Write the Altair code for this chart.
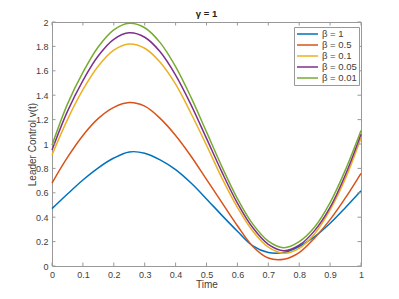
import altair as alt
import pandas as pd

t = [0.0, 0.05, 0.10, 0.15, 0.20, 0.25, 0.30, 0.35, 0.40, 0.45, 0.50,
     0.55, 0.60, 0.65, 0.70, 0.75, 0.80, 0.85, 0.90, 0.95, 1.0]

beta_1 = [0.47, 0.59, 0.705, 0.805, 0.885, 0.935, 0.925, 0.87, 0.79, 0.68, 0.55,
          0.415, 0.285, 0.165, 0.11, 0.11, 0.16, 0.24, 0.35, 0.48, 0.617]
beta_05 = [0.68, 0.89, 1.07, 1.21, 1.30, 1.34, 1.31, 1.21, 1.07, 0.90, 0.71,
           0.52, 0.33, 0.16, 0.065, 0.055, 0.11, 0.23, 0.38, 0.56, 0.76]
beta_01 = [0.91, 1.20, 1.445, 1.64, 1.77, 1.82, 1.785, 1.67, 1.49, 1.25, 0.99,
           0.72, 0.48, 0.285, 0.155, 0.105, 0.145, 0.265, 0.46, 0.72, 1.05]
beta_005 = [0.95, 1.267, 1.52, 1.723, 1.858, 1.911, 1.875, 1.756, 1.565, 1.321, 1.046,
            0.769, 0.516, 0.313, 0.178, 0.126, 0.17, 0.29, 0.48, 0.75, 1.08]
beta_001 = [0.99, 1.327, 1.587, 1.797, 1.936, 1.99, 1.953, 1.831, 1.634, 1.382, 1.099,
            0.813, 0.553, 0.343, 0.204, 0.15, 0.20, 0.32, 0.52, 0.79, 1.11]

labels = ["β = 1", "β = 0.5", "β = 0.1", "β = 0.05", "β = 0.01"]
colors = ["#0072BD", "#D95319", "#EDB120", "#7E2F8E", "#77AC30"]
x_ticks = [0, 0.1, 0.2, 0.3, 0.4, 0.5, 0.6, 0.7, 0.8, 0.9, 1.0]
y_ticks = [0, 0.2, 0.4, 0.6, 0.8, 1.0, 1.2, 1.4, 1.6, 1.8, 2.0]
title_text = ["γ = 1"]

series = [beta_1, beta_05, beta_01, beta_005, beta_001]
rows = []
for lab, vals in zip(labels, series):
    for ti, v in zip(t, vals):
        rows.append({"t": ti, "v": v, "series": lab})
df = pd.DataFrame(rows)

W, H = 309, 244
TXT = "#404040"
BOX = "#999999"
FONT = "Liberation Sans"

xs = alt.Scale(domain=[0, 1], nice=False)
ys = alt.Scale(domain=[0, 2], nice=False)

x_axis = alt.Axis(values=x_ticks, format="~g", title="Time", domain=False, ticks=False,
                  grid=False, labelPadding=4, labelFontSize=9, labelColor=TXT,
                  labelOverlap=False, labelFlush=False,
                  titleFontSize=10, titleFontWeight="normal", titleColor=TXT,
                  titleX=W / 2, titleY=18, titleBaseline="middle", labelFont=FONT,
                  titleFont=FONT)
y_axis = alt.Axis(values=y_ticks, format="~g", title="Leader Control v(t)", domain=False,
                  ticks=False, grid=False, labelPadding=4, labelFontSize=9,
                  labelOverlap=False, labelFlush=False,
                  labelColor=TXT, titleFontSize=10, titleFontWeight="normal",
                  titleColor=TXT, titleX=-20, titleY=H / 2, titleAngle=-90,
                  titleBaseline="middle", labelFont=FONT, titleFont=FONT)

lines = alt.Chart(df).mark_line(strokeWidth=1.5, interpolate="catmull-rom").encode(
    x=alt.X("t:Q", scale=xs, axis=x_axis),
    y=alt.Y("v:Q", scale=ys, axis=y_axis),
    color=alt.Color("series:N", sort=labels,
                    scale=alt.Scale(domain=labels, range=colors),
                    legend=alt.Legend(title=None, orient="none", legendX=242, legendY=5,
                                      symbolType="stroke", symbolSize=441, clipHeight=10,
                                      symbolStrokeWidth=1.5, labelFontSize=9.5,
                                      labelColor=TXT, labelFont=FONT, rowPadding=1,
                                      padding=2, strokeColor="#999999", fillColor="white",
                                      labelOffset=3)),
)

xt = pd.DataFrame({"t": x_ticks})
yt = pd.DataFrame({"v": y_ticks})
tick_style = dict(color=BOX, strokeWidth=1)
bt = alt.Chart(xt).mark_rule(**tick_style).encode(x=alt.X("t:Q", scale=xs, axis=x_axis), y=alt.value(H), y2=alt.value(H - 3.5))
tt = alt.Chart(xt).mark_rule(**tick_style).encode(x=alt.X("t:Q", scale=xs, axis=x_axis), y=alt.value(0), y2=alt.value(3.5))
lt = alt.Chart(yt).mark_rule(**tick_style).encode(y=alt.Y("v:Q", scale=ys, axis=y_axis), x=alt.value(0), x2=alt.value(3.5))
rt = alt.Chart(yt).mark_rule(**tick_style).encode(y=alt.Y("v:Q", scale=ys, axis=y_axis), x=alt.value(W), x2=alt.value(W - 3.5))

title = alt.Chart(pd.DataFrame({"title": title_text})).mark_text(
    fontSize=9.5, fontWeight="bold", font=FONT, color="#222222", baseline="alphabetic", align="center"
).encode(text="title:N", x=alt.value(W / 2), y=alt.value(-5))

chart = alt.layer(lines, bt, tt, lt, rt, title).properties(
    width=W, height=H,
    autosize=alt.AutoSizeParams(type="none"),
    padding={"left": 44, "top": 14, "right": 30, "bottom": 30},
).configure_view(stroke=BOX, strokeWidth=1).configure_axis(labelOverlap=False)

chart.save("out.html", embed_options={"renderer": "svg", "actions": False})
